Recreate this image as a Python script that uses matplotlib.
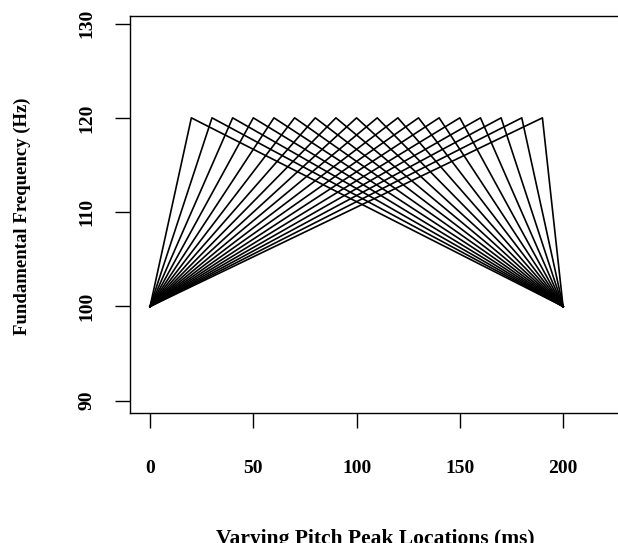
"""
Pitch contours with the peak moved along the syllable: every contour rises
from the onset F0 to the peak F0, then falls back to the offset F0.
"""

import matplotlib
matplotlib.use("Agg")
import matplotlib.pyplot as plt

# contour anchors (ms, Hz)
onset_time = 0
offset_time = 200
onset_f0 = 100
peak_f0 = 120
offset_f0 = 100
peak_locations = [20, 30, 40, 50, 60, 70, 80, 90, 100,
                  110, 120, 130, 140, 150, 160, 170, 180, 190]

x_ticks = [0, 50, 100, 150, 200]
y_ticks = [90, 100, 110, 120, 130]

plt.rcParams["font.family"] = ["Liberation Serif", "DejaVu Serif"]
plt.rcParams["font.weight"] = "bold"

fig = plt.figure(figsize=(6.18, 5.43), dpi=100)
ax = fig.add_axes([0.2104, 0.2394, 0.7896, 0.7311])

for p in peak_locations:
    ax.plot([onset_time, p, offset_time], [onset_f0, peak_f0, offset_f0],
            color="black", linewidth=1.2)

ax.set_xlim(-9.7, 226.6)
ax.set_ylim(88.7, 130.8)
ax.set_xticks(x_ticks)
ax.set_yticks(y_ticks)
ax.spines["right"].set_visible(False)
for s in ["left", "top", "bottom"]:
    ax.spines[s].set_linewidth(1.0)

ax.tick_params(axis="both", direction="out", length=11, width=1.0,
               labelsize=14)
ax.tick_params(axis="x", pad=23)
ax.tick_params(axis="y", pad=14)
for lab in ax.get_yticklabels():
    lab.set_rotation(90)
    lab.set_verticalalignment("center")

ax.set_xlabel("Varying Pitch Peak Locations (ms)", fontsize=15.5, fontweight="bold")
ax.set_ylabel("Fundamental Frequency (Hz)", fontsize=13.5, fontweight="bold")
ax.xaxis.set_label_coords(0.502, -0.292)
ax.yaxis.set_label_coords(-0.203, 0.495)

plt.savefig("out.png", dpi=100)
plt.close()
